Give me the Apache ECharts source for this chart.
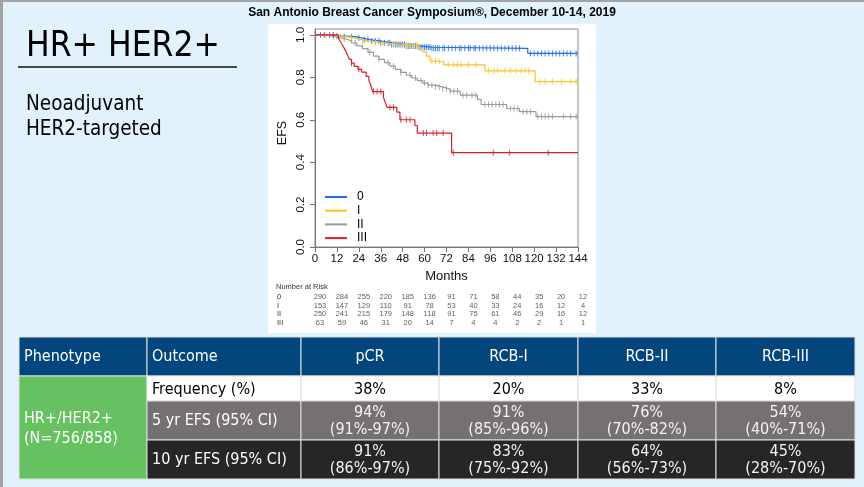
<!DOCTYPE html>
<html><head><meta charset="utf-8">
<script src="https://cdn.jsdelivr.net/npm/echarts@6.0.0/dist/echarts.min.js"></script>
<style>html,body{margin:0;padding:0;background:#e1f2fd;}#c{width:864px;height:487px;}</style>
</head><body><div id="c"></div>
<script>
// ---------- data ----------
const slideHeader = 'San Antonio Breast Cancer Symposium®, December 10-14, 2019';
const slideTitle = 'HR+ HER2+';
const slideSubtitle = 'Neoadjuvant\nHER2-targeted';
const groups = ['0', 'I', 'II', 'III'];
const yTicks = [0, 0.2, 0.4, 0.6, 0.8, 1.0];

// Kaplan-Meier steps: [month, survival from that month on]
const km0 = [[0,1],[9,0.996],[15,0.992],[22,0.985],[26,0.978],[30,0.971],[36,0.963],[42,0.955],[50,0.948],[57,0.942],[64,0.937],[116.5,0.913],[144,0.913]];
const kmI = [[0,1],[10,0.993],[16,0.985],[22,0.977],[26,0.968],[31,0.962],[38,0.956],[47,0.95],[57,0.935],[59,0.92],[61,0.9],[63,0.876],[70.5,0.859],[93,0.831],[120.5,0.78],[144,0.78]];
const kmII = [[0,1],[4,0.997],[8,0.993],[11,0.988],[14,0.981],[17,0.972],[20,0.962],[23,0.948],[26,0.935],[29,0.918],[32,0.9],[35,0.885],[38,0.869],[41,0.853],[44,0.838],[47,0.823],[50,0.81],[53,0.797],[56,0.785],[59,0.773],[62,0.763],[66,0.754],[70,0.745],[74,0.735],[79.5,0.716],[89,0.696],[91,0.672],[105,0.653],[112,0.638],[121,0.615],[144,0.615]];
const kmIII = [[0,1],[12.8,0.985],[13.8,0.97],[14.8,0.955],[15.8,0.94],[16.8,0.925],[17.8,0.905],[18.8,0.885],[20,0.867],[21.5,0.852],[23.5,0.838],[25.5,0.825],[28,0.805],[29.5,0.785],[30.5,0.765],[31.5,0.733],[37.5,0.705],[38.5,0.682],[39.5,0.658],[44.8,0.636],[46.5,0.6],[54.7,0.573],[56,0.537],[74.8,0.445],[144,0.445]];

// censoring times (months)
const cens0 = [3,8,12,16,20,24,27,29,31,33,35,36,38,40,41,42,43,44,45,46,47,48,49,50,51,52,53,54,55,56,57,58,59,60,61,62,63,64,65,66,67,68,70,71,73,75,77,79,80,82,84,85,87,88,90,92,94,96,98,100,102,104,106,108,110,112,118,120,122,124,126,128,130,132,134,136,138,140,143];
const censI = [6,14,20,26,33,37,40,43,45,48,50,52,54,56,64,66,68,73,76,78,80,84,88,95,98,100,104,107,110,113,115,117,123,126,130,135,140,143];
const censII = [10,16,22,30,35,40,43,47,52,55,58,60,62,64,66,68,70,72,74,76,78,81,83,86,88,93,95,97,99,101,103,107,109,111,114,116,118,122,124,126,128,130,136,140,143];
const censIII = [5,10,20,24,32,34,36,41,43,47,50,52,59.3,61.1,64.7,66.6,70.2,75.7,97.6,106.4,127.7];

// number at risk
const riskTitle = 'Number at Risk';
const riskTimes = [0,12,24,36,48,60,72,84,96,108,120,132,144];
const risk0 = [290,284,255,220,185,136,91,71,58,44,35,20,12];
const riskI = [153,147,129,110,91,78,53,40,33,24,16,12,4];
const riskII = [250,241,215,179,148,118,91,75,61,46,29,16,12];
const riskIII = [63,59,46,31,20,14,7,4,4,2,2,1,1];

// summary table
const tableHeader = ['Phenotype','Outcome','pCR','RCB-I','RCB-II','RCB-III'];
const phenotype = 'HR+/HER2+\n(N=756/858)';
const outcomes = ['Frequency (%)','5 yr EFS (95% CI)','10 yr EFS (95% CI)'];
const frequency = ['38%','20%','33%','8%'];
const efs5 = ['94%\n(91%-97%)','91%\n(85%-96%)','76%\n(70%-82%)','54%\n(40%-71%)'];
const efs10 = ['91%\n(86%-97%)','83%\n(75%-92%)','64%\n(56%-73%)','45%\n(28%-70%)'];

// ---------- styling / layout ----------
const colors = ['#1f6fe5', '#fbc22b', '#9a9a9a', '#d2232a'];
const kms = [km0, kmI, kmII, kmIII];
const cens = [cens0, censI, censII, censIII];
const risks = [risk0, riskI, riskII, riskIII];
const tFont = '"DejaVu Sans Condensed","DejaVu Sans",sans-serif';
const pFont = '"Liberation Sans",Arial,sans-serif';

function survAt(steps, t) {
  let s = steps[0][1];
  for (const p of steps) { if (p[0] <= t) s = p[1]; }
  return s;
}

const series = [];
groups.forEach((g, i) => {
  series.push({
    type: 'line', name: g, data: kms[i], step: 'end', symbol: 'none', showSymbol: false,
    lineStyle: { width: 1.2, color: colors[i] }, itemStyle: { color: colors[i] },
    z: 3 + i, silent: true
  });
  series.push({
    type: 'scatter', name: 'cens' + g, data: cens[i].map(t => [t, survAt(kms[i], t)]),
    symbol: 'rect', symbolSize: [1, 6], itemStyle: { color: colors[i], opacity: 0.85 },
    z: 3 + i, silent: true
  });
  series.push({
    type: 'scatter', name: 'risk' + g, xAxisIndex: 1, yAxisIndex: 1,
    data: riskTimes.map((t, k) => [t, g, risks[i][k]]),
    symbolSize: 0, itemStyle: { color: 'transparent' }, silent: true,
    label: { show: true, position: 'inside', formatter: p => String(p.value[2]),
      fontSize: 7.5, color: '#333', fontFamily: pFont }
  });
});

// table graphics
const colX = [19, 147, 301, 439, 578, 716, 855];
const rowY = [337, 376, 401, 440, 479];
const rowFills = ['#ffffff', '#767171', '#262626'];
const rowText = ['#000000', '#ffffff', '#ffffff'];
const cellStroke = '#dedede';
const tbl = [];
tableHeader.forEach((h, c) => {
  tbl.push({ type: 'rect', shape: { x: colX[c], y: rowY[0], width: colX[c+1]-colX[c], height: rowY[1]-rowY[0] },
    style: { fill: '#02467d', stroke: cellStroke, lineWidth: 1 } });
  const left = c < 2;
  tbl.push({ type: 'text', style: { text: h, x: left ? colX[c] + 5 : (colX[c]+colX[c+1])/2, y: 357,
    align: left ? 'left' : 'center', verticalAlign: 'middle', fill: '#ffffff', font: '16px ' + tFont } });
});
tbl.push({ type: 'rect', shape: { x: colX[0], y: rowY[1], width: colX[1]-colX[0], height: rowY[4]-rowY[1] },
  style: { fill: '#66c161', stroke: cellStroke, lineWidth: 1 } });
tbl.push({ type: 'text', style: { text: phenotype, x: colX[0] + 5, y: 429, align: 'left', verticalAlign: 'middle',
  fill: '#ffffff', font: '16px ' + tFont, lineHeight: 20 } });
const rowVals = [frequency, efs5, efs10];
const rowLH = [17, 16.7, 17.6];
const rowCY = [389.5, 421.5, 460.5];
outcomes.forEach((o, r) => {
  for (let c = 1; c < 6; c++) {
    tbl.push({ type: 'rect', shape: { x: colX[c], y: rowY[r+1], width: colX[c+1]-colX[c], height: rowY[r+2]-rowY[r+1] },
      style: { fill: rowFills[r], stroke: cellStroke, lineWidth: 1 } });
  }
  tbl.push({ type: 'text', style: { text: o, x: colX[1] + 5, y: rowCY[r] - (r ? 0.5 : 0), align: 'left', verticalAlign: 'middle',
    fill: rowText[r], font: '16px ' + tFont } });
  rowVals[r].forEach((v, k) => {
    tbl.push({ type: 'text', style: { text: v, x: (colX[k+2]+colX[k+3])/2, y: rowCY[r], align: 'center', verticalAlign: 'middle',
      fill: r ? '#f2f2f2' : '#000000', font: '16px ' + tFont, lineHeight: rowLH[r] } });
  });
});

const option = {
  backgroundColor: '#e1f2fd',
  animation: false,
  textStyle: { fontFamily: pFont },
  title: [
    { text: slideHeader, left: 'center', top: 6, padding: 0,
      textStyle: { fontSize: 12, fontWeight: 'bold', color: '#000', fontFamily: pFont, lineHeight: 14 } },
    { text: slideTitle, left: 26, top: 29.5, padding: 0,
      textStyle: { fontSize: 35, fontWeight: 'normal', color: '#000', fontFamily: tFont, lineHeight: 35 } },
    { text: slideSubtitle, left: 26, top: 92.5, padding: 0,
      textStyle: { fontSize: 20.5, fontWeight: 'normal', color: '#000', fontFamily: tFont, lineHeight: 25 } },
    { text: riskTitle, left: 276, top: 282.5, padding: 0,
      textStyle: { fontSize: 7.5, fontWeight: 'normal', color: '#333', fontFamily: pFont, lineHeight: 9 } }
  ],
  legend: {
    data: groups, orient: 'vertical', left: 325, top: 191, padding: 0,
    icon: 'rect', itemWidth: 22, itemHeight: 2, itemGap: 1.7, selectedMode: false,
    textStyle: { fontSize: 12, color: '#000', fontFamily: pFont, lineHeight: 12, padding: [0, 0, 0, 5] }
  },
  grid: [
    { left: 315, right: 286, top: 29, bottom: 240, show: true, borderColor: '#8a8a8a', borderWidth: 1, backgroundColor: 'transparent' },
    { left: 320, right: 281, top: 292.75, height: 34 }
  ],
  xAxis: [
    { type: 'value', gridIndex: 0, min: 0, max: 144, interval: 12,
      axisLine: { show: true, lineStyle: { color: '#777' } },
      axisTick: { show: true, length: 5, lineStyle: { color: '#777' } },
      axisLabel: { fontSize: 11.5, color: '#111', margin: 6, fontFamily: pFont },
      splitLine: { show: false },
      name: 'Months', nameLocation: 'middle', nameGap: 23,
      nameTextStyle: { fontSize: 13, color: '#111', fontFamily: pFont } },
    { type: 'value', gridIndex: 1, min: 0, max: 144, show: false }
  ],
  yAxis: [
    { type: 'value', gridIndex: 0, min: 0, max: 1.028,
      axisLine: { show: true, lineStyle: { color: '#777' } },
      axisTick: { show: true, length: 5, customValues: yTicks, lineStyle: { color: '#777' } },
      axisLabel: { rotate: 90, customValues: yTicks, formatter: v => Number(v).toFixed(1),
        fontSize: 11.5, color: '#111', margin: 8, fontFamily: pFont },
      splitLine: { show: false },
      name: 'EFS', nameLocation: 'middle', nameRotate: 90, nameGap: 26,
      nameTextStyle: { fontSize: 12.5, color: '#111', fontFamily: pFont, padding: [0, 0, 0, 10] } },
    { type: 'category', gridIndex: 1, data: groups, inverse: true,
      axisLine: { show: false }, axisTick: { show: false }, splitLine: { show: false },
      axisLabel: { interval: 0, align: 'left', margin: 43, fontSize: 7.5, color: '#333', fontFamily: pFont } }
  ],
  graphic: [
    { type: 'rect', z: -10, shape: { x: 0, y: 0, width: 3, height: 487 }, style: { fill: '#a3a3a3' } },
    { type: 'rect', z: -10, shape: { x: 0, y: 0, width: 864, height: 2 }, style: { fill: '#a3a3a3' } },
    { type: 'rect', z: -10, shape: { x: 268, y: 24, width: 328, height: 309 }, style: { fill: '#ffffff' } },
    { type: 'line', shape: { x1: 18, y1: 67, x2: 237, y2: 67 }, style: { stroke: '#111', lineWidth: 1.5 } },
    { type: 'group', children: tbl }
  ],
  series: series
};

const chart = echarts.init(document.getElementById('c'), null, { renderer: 'canvas' });
chart.setOption(option);
</script></body></html>
